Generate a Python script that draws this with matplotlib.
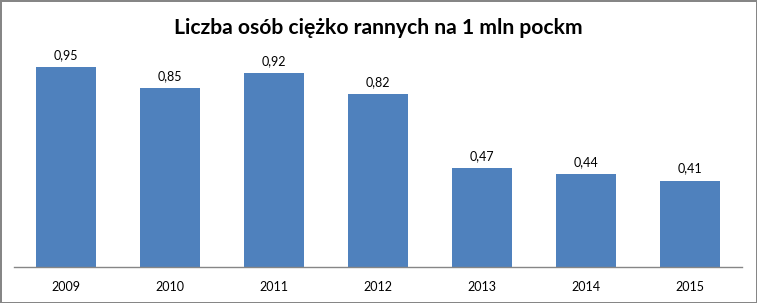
import matplotlib
matplotlib.use("Agg")
import matplotlib.pyplot as plt

# data
years = ["2009", "2010", "2011", "2012", "2013", "2014", "2015"]
values = [0.95, 0.85, 0.92, 0.82, 0.47, 0.44, 0.41]
title = "Liczba osób ciężko rannych na 1 mln pockm"

plt.rcParams["font.family"] = ["Lato", "DejaVu Sans"]

fig = plt.figure(figsize=(7.57, 3.03), dpi=100, edgecolor="#868686", linewidth=2)
ax = fig.add_axes([14 / 757, 36 / 303, 728 / 757, 210.5 / 303])

x = range(len(years))
bars = ax.bar(x, values, width=0.57, color="#4F81BD")

# value labels with comma decimals
for xi, v in zip(x, values):
    ax.text(xi, v + 0.03, f"{v:.2f}".replace(".", ","), ha="center", va="bottom",
            fontsize=9, color="black")

ax.set_xlim(-0.5, len(years) - 0.5)
ax.set_ylim(0, 1.0)
ax.set_xticks(list(x))
ax.set_xticklabels(years, fontsize=9)
ax.tick_params(axis="x", length=0, pad=10)
ax.set_yticks([])
for side in ["top", "right", "left"]:
    ax.spines[side].set_visible(False)
ax.spines["bottom"].set_color("#868686")
ax.spines["bottom"].set_linewidth(1)

fig.text(0.5, 1 - 28 / 303, title, ha="center", va="center",
         fontsize=15.2, fontweight="bold")

fig.savefig("out.png", dpi=100)
plt.close(fig)
